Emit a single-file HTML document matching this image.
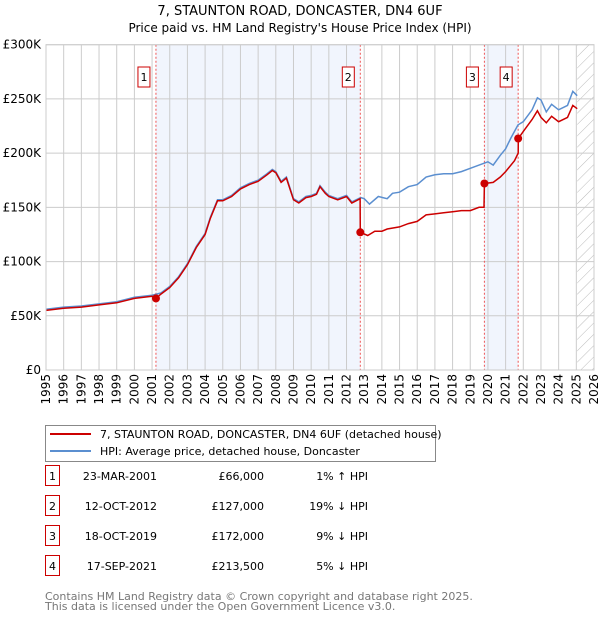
<!DOCTYPE html>
<html><head><meta charset="utf-8"><style>
body{margin:0;background:#fff;font-family:"Liberation Sans","DejaVu Sans",sans-serif}
svg{display:block}
</style></head><body>
<svg id="c" width="600" height="620" xmlns="http://www.w3.org/2000/svg" font-family="DejaVu Sans, Liberation Sans, sans-serif"></svg>
<script>
const hpiYears=[1995,1996,1997,1998,1999,2000,2001,2001.5,2002,2002.5,2003,2003.5,2004,2004.3,2004.7,2005,2005.5,2006,2006.5,2007,2007.5,2007.8,2008,2008.3,2008.6,2009,2009.3,2009.7,2010,2010.3,2010.5,2010.8,2011,2011.5,2012,2012.3,2012.8,2013,2013.3,2013.8,2014.3,2014.6,2015,2015.5,2016,2016.5,2017,2017.5,2018,2018.5,2019,2019.5,2020,2020.3,2020.7,2021,2021.3,2021.7,2022,2022.5,2022.8,2023,2023.3,2023.6,2024,2024.5,2024.8,2025.05];
const hpiValues=[56,58,59,61,63,67,69,71,77,86,98,114,126,141,157,157,161,168,172,175,181,185,183,174,178,158,155,160,161,163,170,164,161,158,161,155,159,158,153,160,158,163,164,169,171,178,180,181,181,183,186,189,192,189,198,204,214,226,229,240,251,249,238,245,240,244,257,253];
const redYears=[1995,1996,1997,1998,1999,2000,2001,2001.22,2001.5,2002,2002.5,2003,2003.5,2004,2004.3,2004.7,2005,2005.5,2006,2006.5,2007,2007.5,2007.8,2008,2008.3,2008.6,2009,2009.3,2009.7,2010,2010.3,2010.5,2010.8,2011,2011.5,2012,2012.3,2012.77,2012.78,2013.2,2013.6,2014,2014.3,2015,2015.5,2016,2016.5,2017,2017.5,2018,2018.5,2019,2019.5,2019.78,2019.8,2020.3,2020.7,2021,2021.5,2021.71,2021.72,2022,2022.5,2022.8,2023,2023.3,2023.6,2024,2024.5,2024.8,2025.05];
const redValues=[55,57,58,60,62,66,68,66,70,76,85,97,113,125,140,156,156,160,167,171,174,180,184,182,173,177,157,154,159,160,162,169,163,160,157,160,154,158,127,124,128,128,130,132,135,137,143,144,145,146,147,147,150,150,172,173,178,183,193,200,213.5,220,231,239,233,228,234,229,233,244,241];
const sales=[[2001.22,66,"1"],[2012.78,127,"2"],[2019.8,172,"3"],[2021.71,213.5,"4"]];
const yTicks=[0,50,100,150,200,250,300];
const yTickLabels=["£0","£50K","£100K","£150K","£200K","£250K","£300K"];
const x0=46,x1=594,yTop=44.7,yBot=370;
const X=y=>x0+(y-1995)*(x1-x0)/31;
const Y=v=>yBot-v*(yBot-yTop)/300;
const svg=document.getElementById('c');
const NS='http://www.w3.org/2000/svg';
function el(t,a,p){const e=document.createElementNS(NS,t);for(const k in a)e.setAttribute(k,a[k]);(p||svg).appendChild(e);return e;}
function txt(s,a,p){const e=el('text',a,p);e.textContent=s;return e;}
// title
let t=txt("7, STAUNTON ROAD, DONCASTER, DN4 6UF",{x:300,y:15,"text-anchor":"middle","font-size":13});

t=txt("Price paid vs. HM Land Registry's House Price Index (HPI)",{x:300,y:32,"text-anchor":"middle","font-size":12});

// shading
let r=el('rect',{x:X(2001.22),y:yTop,width:X(2012.78)-X(2001.22),height:yBot-yTop,fill:'#eef3fd',opacity:0.8});

r=el('rect',{x:X(2019.8),y:yTop,width:X(2021.71)-X(2019.8),height:yBot-yTop,fill:'#eef3fd',opacity:0.8});

// hatch
const defs=el('defs',{});
const pat=el('pattern',{id:'h',patternUnits:'userSpaceOnUse',width:8,height:8,patternTransform:'rotate(45)'},defs);
el('line',{x1:0,y1:0,x2:0,y2:8,stroke:'#bbb','stroke-width':1},pat);
r=el('rect',{x:X(2025.05),y:yTop,width:x1-X(2025.05),height:yBot-yTop,fill:'url(#h)'});

// grid
for(let yr=1995;yr<=2026;yr++){let l=el('line',{x1:X(yr),x2:X(yr),y1:yTop,y2:yBot,stroke:'#ccc','stroke-width':1});

let tl=txt(String(yr),{transform:`translate(${X(yr)+4},${yBot+4}) rotate(-90)`,"text-anchor":"end","font-size":12});
}
yTicks.forEach((v,i)=>{let l=el('line',{x1:x0,x2:x1,y1:Y(v),y2:Y(v),stroke:'#ccc','stroke-width':1});

let tl=txt(yTickLabels[i],{x:x0-5,y:Y(v)+4,"text-anchor":"end","font-size":12});
});
// vlines and markers
sales.forEach(s=>{let l=el('line',{x1:X(s[0]),x2:X(s[0]),y1:yTop,y2:yBot,stroke:'#e55','stroke-width':1,'stroke-dasharray':'2,2'});

const g=el('g',{});
el('rect',{x:X(s[0])-18,y:67,width:12,height:20,fill:'#fff',stroke:'#c00'},g);
txt(s[2],{x:X(s[0])-12,y:81,"text-anchor":"middle","font-size":11},g);});
function path(xs,vs,c,n){const d=xs.map((x,i)=>(i?'L':'M')+X(x).toFixed(1)+','+Y(vs[i]).toFixed(1)).join('');
const p=el('path',{d:d,fill:'none',stroke:c,'stroke-width':1.5});}
path(hpiYears,hpiValues,'#5b8fd0','hpi-line');
path(redYears,redValues,'#cc0000','price-paid-line');
sales.forEach(s=>{const c=el('circle',{cx:X(s[0]),cy:Y(s[1]),r:4,fill:'#cc0000'});});
el('rect',{x:x0,y:yTop,width:x1-x0,height:yBot-yTop,fill:'none',stroke:'#ccc'});
// legend
const lg=el('g',{});
el('rect',{x:45.5,y:425.5,width:390,height:36,fill:'#fff',stroke:'#888'},lg);
el('line',{x1:50,x2:91,y1:434,y2:434,stroke:'#cc0000','stroke-width':2},lg);
txt("7, STAUNTON ROAD, DONCASTER, DN4 6UF (detached house)",{x:100,y:438,"font-size":11},lg);
el('line',{x1:50,x2:91,y1:451,y2:451,stroke:'#5b8fd0','stroke-width':2},lg);
txt("HPI: Average price, detached house, Doncaster",{x:100,y:455,"font-size":11},lg);
// table
const dates=["23-MAR-2001","12-OCT-2012","18-OCT-2019","17-SEP-2021"];
const prices=["£66,000","£127,000","£172,000","£213,500"];
const rel=["1% ↑ HPI","19% ↓ HPI","9% ↓ HPI","5% ↓ HPI"];
dates.forEach((d,i)=>{const yy=478+i*30;const g=el('g',{});
el('rect',{x:45.5,y:yy-12.5,width:14,height:20,fill:'#fff',stroke:'#c00'},g);
txt(String(i+1),{x:52.5,y:yy+2,"text-anchor":"middle","font-size":11},g);
txt(d,{x:157,y:yy+2,"text-anchor":"end","font-size":11},g);
txt(prices[i],{x:264,y:yy+2,"text-anchor":"end","font-size":11},g);
txt(rel[i],{x:368,y:yy+2,"text-anchor":"end","font-size":11},g);});
t=txt("Contains HM Land Registry data © Crown copyright and database right 2025.",{x:45,y:600,"font-size":11,fill:'#777'});

t=txt("This data is licensed under the Open Government Licence v3.0.",{x:45,y:610,"font-size":11,fill:'#777'});

</script>
</body></html>
